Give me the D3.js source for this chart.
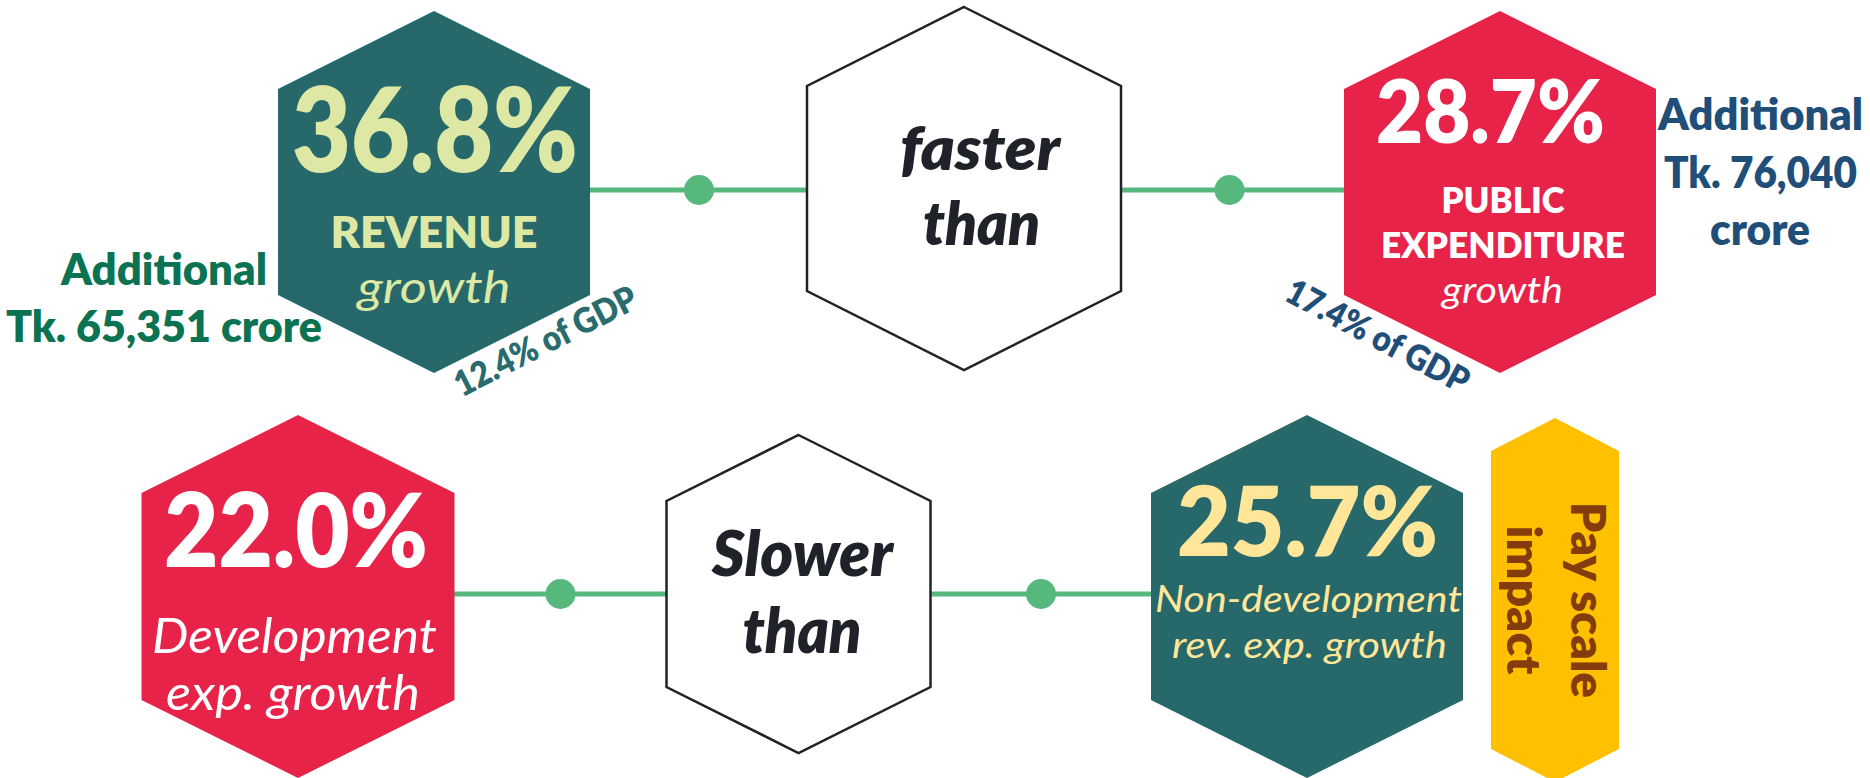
<!DOCTYPE html>
<html>
<head>
<meta charset="utf-8">
<script src="https://cdn.jsdelivr.net/npm/d3@7"></script>
<style>
  body { margin: 0; background: #fff; }
  svg { display: block; font-family: Lato, "Open Sans", sans-serif; }
</style>
</head>
<body>
<div id="chart"></div>
<script>
// growth figures (%)
const growth = [36.8, 28.7, 22.0, 25.7];
const growthLabels = [
  ["REVENUE", "growth"],
  ["PUBLIC", "EXPENDITURE", "growth"],
  ["Development", "exp. growth"],
  ["Non-development", "rev. exp. growth"]
];
const gdpShare = [12.4, 17.4];
const additional = [["Additional", "Tk. 65,351 crore"], ["Additional", "Tk. 76,040", "crore"]];
const comparisons = [["faster", "than"], ["Slower", "than"]];
const payNote = ["Pay scale", "impact"];

const W = 1870, H = 778;
const svg = d3.select("#chart").append("svg").attr("width", W).attr("height", H);
svg.append("rect").attr("width", W).attr("height", H).attr("fill", "#fff");

const pct = d => d3.format(".1f")(d) + "%";

function hexPath(h) {
  const { cx, cy, hw, hh, tip } = h;
  return d3.line()([
    [cx, cy - hh], [cx + hw, cy - hh + tip], [cx + hw, cy + hh - tip],
    [cx, cy + hh], [cx - hw, cy + hh - tip], [cx - hw, cy - hh + tip]
  ]) + "Z";
}

function label(x, y, str, o) {
  svg.append("text")
    .attr("x", x).attr("y", y)
    .attr("text-anchor", "middle")
    .attr("font-size", o.size)
    .attr("font-weight", o.bold ? 800 : 400)
    .attr("font-style", o.italic ? "italic" : "normal")
    .attr("fill", o.color)
    .attr("textLength", o.w)
    .attr("lengthAdjust", "spacingAndGlyphs")
    .attr("transform", o.rot ? `rotate(${o.rot},${x},${y})` : null)
    .text(str);
}

// hexagon layout
const hex = {
  rev:    { cx: 434,   cy: 192,   hw: 156,   hh: 181,   tip: 78, fill: "#27686b" },
  faster: { cx: 964,   cy: 188.5, hw: 157,   hh: 181.5, tip: 79, fill: "#fff", stroke: "#202228" },
  pub:    { cx: 1500,  cy: 192,   hw: 156,   hh: 181,   tip: 78, fill: "#e8234a" },
  dev:    { cx: 298,   cy: 596.5, hw: 156.5, hh: 181.5, tip: 78, fill: "#e8234a" },
  slower: { cx: 798.5, cy: 594,   hw: 132,   hh: 159,   tip: 66, fill: "#fff", stroke: "#202228" },
  nondev: { cx: 1307,  cy: 596.5, hw: 156,   hh: 181.5, tip: 78, fill: "#27686b" },
  pay:    { cx: 1555,  cy: 600,   hw: 64,    hh: 182,   tip: 33, fill: "#ffc000" }
};

// connector lines with dots
const green = "#57b87e";
const links = [
  { a: hex.rev, b: hex.faster, y: 190, dot: 699 },
  { a: hex.faster, b: hex.pub, y: 190, dot: 1229.5 },
  { a: hex.dev, b: hex.slower, y: 594, dot: 560.5 },
  { a: hex.slower, b: hex.nondev, y: 594, dot: 1041 }
];
svg.selectAll(".link").data(links).join("line")
  .attr("class", "link")
  .attr("x1", d => d.a.cx).attr("x2", d => d.b.cx)
  .attr("y1", d => d.y).attr("y2", d => d.y)
  .attr("stroke", green).attr("stroke-width", 5);
svg.selectAll(".dot").data(links).join("circle")
  .attr("class", "dot")
  .attr("cx", d => d.dot).attr("cy", d => d.y).attr("r", 15)
  .attr("fill", green);

svg.selectAll(".hex").data(Object.values(hex)).join("path")
  .attr("class", "hex")
  .attr("d", hexPath)
  .attr("fill", d => d.fill)
  .attr("stroke", d => d.stroke || "none")
  .attr("stroke-width", 2.5)
  .attr("stroke-linejoin", "miter");

// revenue
const revC = "#dce8a3";
label(435, 172, pct(growth[0]), { size: 118, bold: true, color: revC, w: 286 });
label(434, 248, growthLabels[0][0], { size: 44, bold: true, color: revC, w: 207 });
label(434, 303, growthLabels[0][1], { size: 44, italic: true, color: revC, w: 153 });

// public expenditure
label(1490.5, 143, pct(growth[1]), { size: 87, bold: true, color: "#fff", w: 229 });
label(1503, 213, growthLabels[1][0], { size: 36, bold: true, color: "#fff", w: 123 });
label(1503, 258, growthLabels[1][1], { size: 36, bold: true, color: "#fff", w: 244 });
label(1502.5, 303, growthLabels[1][2], { size: 36, italic: true, color: "#fff", w: 121 });

// development
label(296, 567, pct(growth[2]), { size: 103, bold: true, color: "#fff", w: 264 });
label(294.5, 653, growthLabels[2][0], { size: 48, italic: true, color: "#fff", w: 285 });
label(293, 710, growthLabels[2][1], { size: 48, italic: true, color: "#fff", w: 254 });

// non-development
const ndC = "#ffe699";
label(1307.5, 556, pct(growth[3]), { size: 96, bold: true, color: ndC, w: 261 });
label(1308.5, 612, growthLabels[3][0], { size: 36, italic: true, color: ndC, w: 307 });
label(1309.5, 658, growthLabels[3][1], { size: 36, italic: true, color: ndC, w: 275 });

// comparison words
const dark = "#1f2228";
label(980, 170, comparisons[0][0], { size: 60, bold: true, italic: true, color: dark, w: 160 });
label(981.5, 245, comparisons[0][1], { size: 60, bold: true, italic: true, color: dark, w: 117 });
label(802.5, 576, comparisons[1][0], { size: 62, bold: true, italic: true, color: dark, w: 181 });
label(802, 653, comparisons[1][1], { size: 62, bold: true, italic: true, color: dark, w: 119 });

// additional amounts
const addG = "#0b7352", addB = "#1f4e79";
label(164, 285, additional[0][0], { size: 43, bold: true, color: addG, w: 206 });
label(164, 342, additional[0][1], { size: 43, bold: true, color: addG, w: 316 });
label(1760.5, 130, additional[1][0], { size: 43, bold: true, color: addB, w: 205 });
label(1760.5, 188, additional[1][1], { size: 43, bold: true, color: addB, w: 193 });
label(1760, 245, additional[1][2], { size: 43, bold: true, color: addB, w: 100 });

// share of GDP along hex edges
label(551, 352, `${gdpShare[0]}% of GDP`, { size: 35, bold: true, color: "#2a6b6e", w: 200, rot: -27 });
label(1372, 347, `${gdpShare[1]}% of GDP`, { size: 35, bold: true, color: addB, w: 202, rot: 28 });

// pay scale note
const brown = "#843c0c";
label(1571, 600, payNote[0], { size: 48, bold: true, color: brown, w: 196, rot: 90 });
label(1507, 600, payNote[1], { size: 48, bold: true, color: brown, w: 149, rot: 90 });
</script>
</body>
</html>
